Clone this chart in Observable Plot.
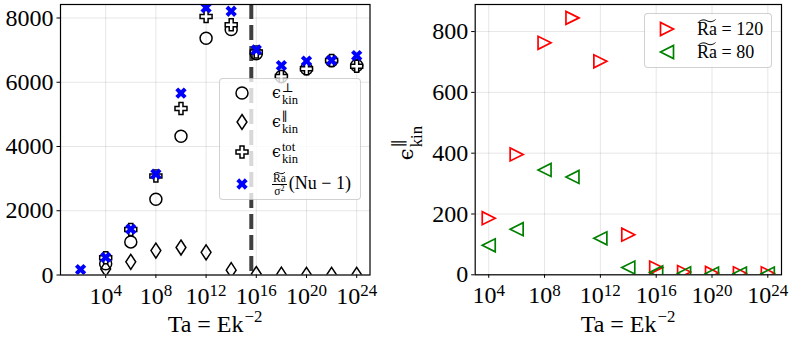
<!DOCTYPE html>
<html>
<head>
<meta charset="utf-8">
<script src="https://cdn.jsdelivr.net/npm/d3@7"></script>
<script src="https://cdn.jsdelivr.net/npm/@observablehq/plot@0.6"></script>
<style>
html,body{margin:0;padding:0;background:#fff}
#root{position:relative;width:793px;height:344px;overflow:hidden;font-family:'Liberation Serif','Tinos','Times New Roman','DejaVu Serif',serif;color:#000}
#root svg text{font-family:'Liberation Serif','Tinos','Times New Roman','DejaVu Serif',serif}
.txt{position:absolute;left:0;top:0;white-space:nowrap;line-height:1.2}
.bl{display:inline-block;width:0;height:0;vertical-align:baseline}
.g{font-family:'DejaVu Serif',serif;font-weight:normal}
.ge{font-family:'DejaVu Serif',serif;font-size:0.88em}
.ss{display:inline-block;font-size:0.7em;line-height:1;vertical-align:-0.5em;text-align:left;margin-left:1px}
.xs{font-size:0.7em;vertical-align:0.6em;margin-left:1px}
.wt{position:relative;display:inline-block}
.wt svg{position:absolute;left:0;top:-0.02em;width:100%;height:0.2em;overflow:visible}
.frac{display:inline-block;vertical-align:middle;text-align:center;font-size:0.64em;line-height:1.1;margin-right:2px}
.frac>span{display:block}
.frac .num{border-bottom:1px solid #000;padding:0 1px}
.sp2{font-size:0.7em;vertical-align:0.45em}
.legend{position:absolute;background:rgba(255,255,255,0.8);border:1px solid rgba(0,0,0,0.18);border-radius:4px;box-sizing:border-box}
.sw{position:absolute;overflow:visible}
</style>
</head>
<body>
<div id="root"></div>
<script>
// ---------------- data ----------------
const taL = [1e4, 1e6, 1e8, 1e10, 1e12, 1e14, 1e16, 1e18, 1e20, 1e22, 1e24];
const epsPerp = [350, 1030, 2360, 4320, 7370, 7640, 6890, 6180, 6420, 6670, 6520];
const epsPar = [190, 410, 760, 855, 705, 150, 30, 10, 6, 5, 5];
const epsTot = [540, 1420, 3080, 5180, 8050, 7790, 6940, 6180, 6420, 6680, 6500];
const taFlux = [1e2, 1e4, 1e6, 1e8, 1e10, 1e12, 1e14, 1e16, 1e18, 1e20, 1e22, 1e24];
const flux = [170, 550, 1430, 3140, 5660, 8320, 8210, 7010, 6520, 6660, 6680, 6830];
const taR = [1e4, 1e6, 1e8, 1e10, 1e12, 1e14, 1e16, 1e18, 1e20, 1e22, 1e24];
const par120 = [186, 396, 763, 845, 702, 132, 24, 9, 6, 5, 5];
const par80 = [97, 150, 345, 322, 120, 24, 8, 5, 4, 4, 4];
const taCrit = [4e15];
const xTickVals = [1e4, 1e8, 1e12, 1e16, 1e20, 1e24];
const yTicksL = [0, 2000, 4000, 6000, 8000];
const yTicksR = [0, 200, 400, 600, 800];
const legendLeft = ["perp", "par", "tot", "flux"];
const legendRight = ["120", "80"];

// ---------------- symbols ----------------
const SQ = Math.sqrt;
const plusPts = [[-1,-3],[-1,-1],[-3,-1],[-3,1],[-1,1],[-1,3],[1,3],[1,1],[3,1],[3,-1],[1,-1],[1,-3]];
const thinDiamond = {draw(c, s){const r = SQ(s/Math.PI); c.moveTo(0,-1.25*r); c.lineTo(0.82*r,0); c.lineTo(0,1.25*r); c.lineTo(-0.82*r,0); c.closePath();}};
const plusFilled = {draw(c, s){const r = SQ(s/Math.PI)/3; plusPts.forEach(([x,y],i)=> i ? c.lineTo(x*r,y*r) : c.moveTo(x*r,y*r)); c.closePath();}};
const xFilled = {draw(c, s){const r = SQ(s/Math.PI)/3, k = Math.SQRT1_2; plusPts.forEach(([x,y],i)=>{const X=(x-y)*k*r, Y=(x+y)*k*r; i ? c.lineTo(X,Y) : c.moveTo(X,Y);}); c.closePath();}};
const triRight = {draw(c, s){const r = SQ(s/Math.PI); c.moveTo(r,0); c.lineTo(-r,-r); c.lineTo(-r,r); c.closePath();}};
const triLeft = {draw(c, s){const r = SQ(s/Math.PI); c.moveTo(-r,0); c.lineTo(r,-r); c.lineTo(r,r); c.closePath();}};

const FONT = "'Liberation Serif','Tinos','Times New Roman','DejaVu Serif',serif";
const supFmt = d => "10^" + Math.round(Math.log10(d));

function fixTicks(svg){
  const ns = "http://www.w3.org/2000/svg";
  svg.querySelectorAll('[aria-label="x-axis tick label"] text').forEach(t => {
    const parts = t.textContent.split("^");
    if (parts.length < 2) return;
    t.textContent = "";
    const a = document.createElementNS(ns, "tspan"); a.textContent = parts[0];
    const b = document.createElementNS(ns, "tspan"); b.textContent = parts[1];
    b.setAttribute("dy", "-7.5"); b.setAttribute("font-size", "17");
    t.appendChild(a); t.appendChild(b);
  });
}

const root = document.getElementById("root");

// ---------------- left panel ----------------
const left = Plot.plot({
  width: 400, height: 344,
  marginLeft: 60, marginRight: 30.5, marginTop: 4, marginBottom: 69.5,
  style: {fontFamily: FONT, fontSize: "24px", color: "#000", background: "transparent", overflow: "visible"},
  x: {type: "log", domain: [10**0.4, 10**25.06], ticks: xTickVals, tickFormat: supFmt, label: null, tickSize: 3.5, tickPadding: 8, grid: true},
  y: {domain: [0, 8420], ticks: yTicksL, tickFormat: d => String(d), label: null, tickSize: 3.5, tickPadding: 3.5, grid: true},
  marks: [
    Plot.ruleX(taCrit, {stroke: "#3f3f3f", strokeWidth: 4, strokeDasharray: "15,6"}),
    Plot.dot(epsPerp, {x: taL, y: epsPerp, r: 6, stroke: "#000", strokeWidth: 1.5, fill: "none", clip: true}),
    Plot.dot(epsPar, {x: taL, y: epsPar, r: 6, symbol: thinDiamond, stroke: "#000", strokeWidth: 1.5, fill: "none", clip: true}),
    Plot.dot(epsTot, {x: taL, y: epsTot, r: 6, symbol: plusFilled, stroke: "#000", strokeWidth: 1.5, fill: "white", clip: true}),
    Plot.dot(flux, {x: taFlux, y: flux, r: 6, symbol: xFilled, fill: "#0000ff", stroke: "none", clip: true}),
    Plot.frame({stroke: "#000", strokeWidth: 1.2})
  ]
});
fixTicks(left);
left.style.position = "absolute"; left.style.left = "0px"; left.style.top = "0px";
root.appendChild(left);

// ---------------- right panel ----------------
const right = Plot.plot({
  width: 393, height: 344,
  marginLeft: 74.7, marginRight: 12, marginTop: 4, marginBottom: 69.7,
  style: {fontFamily: FONT, fontSize: "24px", color: "#000", background: "transparent", overflow: "visible"},
  x: {type: "log", domain: [10**3.03, 10**24.98], ticks: xTickVals, tickFormat: supFmt, label: null, tickSize: 3.5, tickPadding: 8, grid: true},
  y: {domain: [0, 889], ticks: yTicksR, tickFormat: d => String(d), label: null, tickSize: 3.5, tickPadding: 3.5, grid: true},
  marks: [
    Plot.dot(par120, {x: taR, y: par120, r: 6.5, symbol: triRight, stroke: "#ff0000", strokeWidth: 1.7, fill: "none", clip: true}),
    Plot.dot(par80, {x: taR, y: par80, r: 6.5, symbol: triLeft, stroke: "#008000", strokeWidth: 1.7, fill: "none", clip: true}),
    Plot.frame({stroke: "#000", strokeWidth: 1.2})
  ]
});
fixTicks(right);
right.style.position = "absolute"; right.style.left = "400px"; right.style.top = "0px";
root.appendChild(right);

// ---------------- text helpers ----------------
function addHTML(html, fontSize){
  const d = document.createElement("div");
  d.className = "txt";
  d.style.fontSize = fontSize + "px";
  d.innerHTML = html + '<span class="bl"></span>';
  root.appendChild(d);
  const r = d.getBoundingClientRect(), m = d.querySelector(".bl").getBoundingClientRect();
  return {d, w: r.width, b: m.top - r.top};
}
function placeAt(html, fontSize, x, baseline, anchor){
  const o = addHTML(html, fontSize);
  const lx = anchor === "middle" ? x - o.w/2 : x;
  o.d.style.left = lx + "px"; o.d.style.top = (baseline - o.b) + "px";
  return o;
}
function placeRotated(html, fontSize, baselineX, centerY){
  const o = addHTML(html, fontSize);
  o.d.style.transformOrigin = "0 0";
  o.d.style.transform = `translate(${baselineX - o.b}px, ${centerY + o.w/2}px) rotate(-90deg)`;
  return o;
}
function swatch(type, r, cx, cy, attrs){
  const svg = document.createElementNS("http://www.w3.org/2000/svg", "svg");
  svg.setAttribute("class", "sw");
  svg.setAttribute("width", 30); svg.setAttribute("height", 30);
  svg.setAttribute("viewBox", "-15 -15 30 30");
  svg.style.left = (cx - 15) + "px"; svg.style.top = (cy - 15) + "px";
  const p = document.createElementNS("http://www.w3.org/2000/svg", "path");
  p.setAttribute("d", d3.symbol(type, r*r*Math.PI)());
  for (const k in attrs) p.setAttribute(k, attrs[k]);
  svg.appendChild(p);
  root.appendChild(svg);
}
function box(l, t, w, h){
  const d = document.createElement("div");
  d.className = "legend";
  Object.assign(d.style, {left: l+"px", top: t+"px", width: w+"px", height: h+"px"});
  root.appendChild(d);
}
const tilde = '<svg viewBox="0 0 20 5" preserveAspectRatio="none"><path d="M1.5,4.2 C4.5,0.6 7.5,0.6 10,2.5 S15.5,4.4 18.5,0.8" fill="none" stroke="#000" stroke-width="1" vector-effect="non-scaling-stroke"/></svg>';
const eps = s => `<span class="ge">ϵ</span><span class="ss">${s}<br>kin</span>`;
const RaT = `<span class="wt">Ra${tilde}</span>`;
const PAR = '<span class="g">∥</span>';
const PERP = '<span class="g">⊥</span>';

// axis titles
placeAt('Ta = Ek<span class="xs">−2</span>', 24, 215, 332, "middle");
placeAt('Ta = Ek<span class="xs">−2</span>', 24, 628, 332, "middle");
placeRotated(eps(PAR), 24, 413, 143);

// left legend
box(219, 78, 142, 122);
const labL = {
  perp: eps(PERP),
  par: eps(PAR),
  tot: eps("tot"),
  flux: `<span class="frac"><span class="num">${RaT}</span><span>σ<span class="sp2">2</span></span></span>(Nu − 1)`
};
const rowsL = [93, 122, 152, 184];
swatch(d3.symbolCircle, 6, 242, rowsL[0], {fill: "none", stroke: "#000", "stroke-width": 1.5});
swatch(thinDiamond, 6, 242, rowsL[1], {fill: "none", stroke: "#000", "stroke-width": 1.5});
swatch(plusFilled, 6, 242, rowsL[2], {fill: "white", stroke: "#000", "stroke-width": 1.5});
swatch(xFilled, 6, 242, rowsL[3], {fill: "#0000ff"});
legendLeft.forEach((k, i) => placeAt(labL[k], 18, 272, rowsL[i] + 5, "start"));

// right legend
box(644, 13, 128, 55);
const rowsR = [29, 52];
swatch(triRight, 6.5, 667, rowsR[0], {fill: "none", stroke: "#ff0000", "stroke-width": 1.7});
swatch(triLeft, 6.5, 667, rowsR[1], {fill: "none", stroke: "#008000", "stroke-width": 1.7});
legendRight.forEach((v, i) => placeAt(`${RaT} = ${v}`, 18, 697, rowsR[i] + 6, "start"));
</script>
</body>
</html>
